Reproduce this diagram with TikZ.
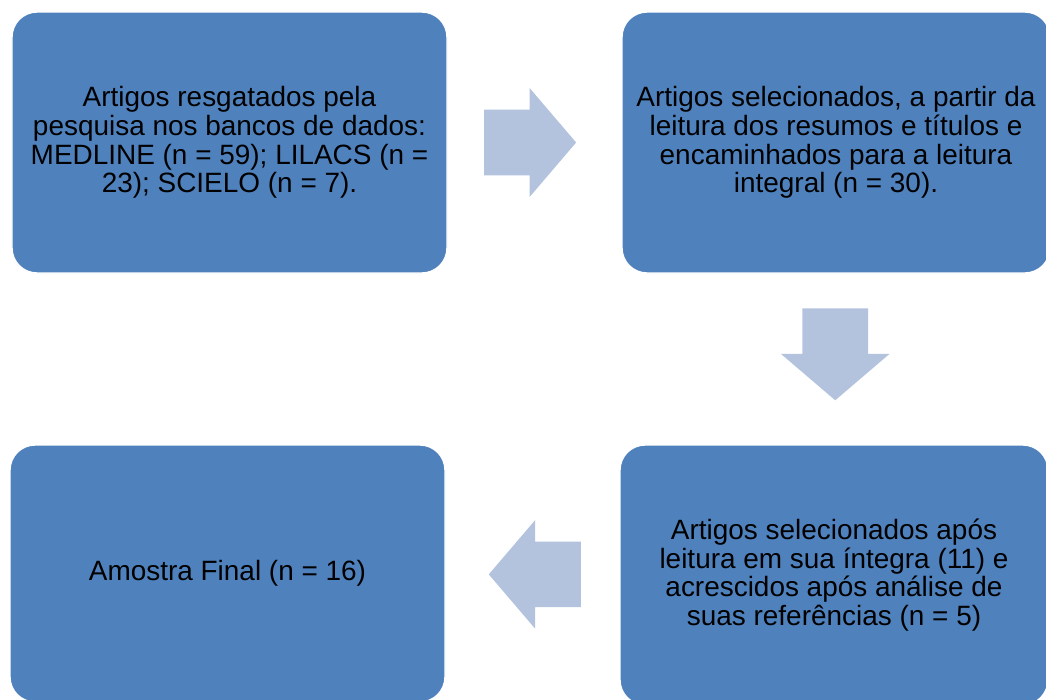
\documentclass[tikz,border=0pt]{standalone}
\usepackage{fontspec}
\setmainfont{Liberation Sans}
\usepackage{tikz}
\usetikzlibrary{calc, arrows, shapes, positioning}
\tikzset{>=latex}
\definecolor{myblue}{RGB}{79, 129, 189}
\definecolor{myblue2}{RGB}{179, 195, 222}

\tikzset{
  stepbox/.style = {draw=white, line width=0.8pt, fill=myblue, rounded corners=0.5cm,
    align=center, inner sep=0pt, font=\fontsize{15.9}{16.3}\selectfont},
  blockarrow/.style = {single arrow, fill=myblue2, draw=none, inner xsep=0pt,
    inner ysep=0.65cm, minimum height=1.84cm, single arrow head extend=0.43cm,
    single arrow tip angle=99}
}

\begin{document}
\begin{tikzpicture}
\useasboundingbox (0,0) rectangle (20.92,-14);
\node[stepbox, minimum width=8.7cm, minimum height=5.22cm] (tl) at (4.59,-2.85)
  {Artigos resgatados pela\\ pesquisa nos bancos de dados:\\ MEDLINE (n = 59); LILACS (n =\\ 23); SCIELO (n = 7).};
\node[stepbox, minimum width=8.56cm, minimum height=5.22cm] (tr) at (16.72,-2.85)
  {Artigos selecionados, a partir da\\ leitura dos resumos e títulos e\\ encaminhados para a leitura\\ integral (n = 30).};
\node[stepbox, minimum width=8.56cm, minimum height=5.2cm] (br) at (16.68,-11.5)
  {Artigos selecionados após\\ leitura em sua íntegra (11) e\\ acrescidos após análise de\\ suas referências (n = 5)};
\node[stepbox, minimum width=8.7cm, minimum height=5.14cm] (bl) at (4.55,-11.47)
  {Amostra Final (n = 16)};

\node[blockarrow] (a1) at ($(tl.east)!0.394!(tr.west)$) {};
\node[blockarrow, rotate=-90] (a2) at ($(tr.south)!0.39!(br.north)$) {};
\node[blockarrow, rotate=180] (a3) at ($(br.west)!0.406!(bl.east)$) {};
\end{tikzpicture}
\end{document}
